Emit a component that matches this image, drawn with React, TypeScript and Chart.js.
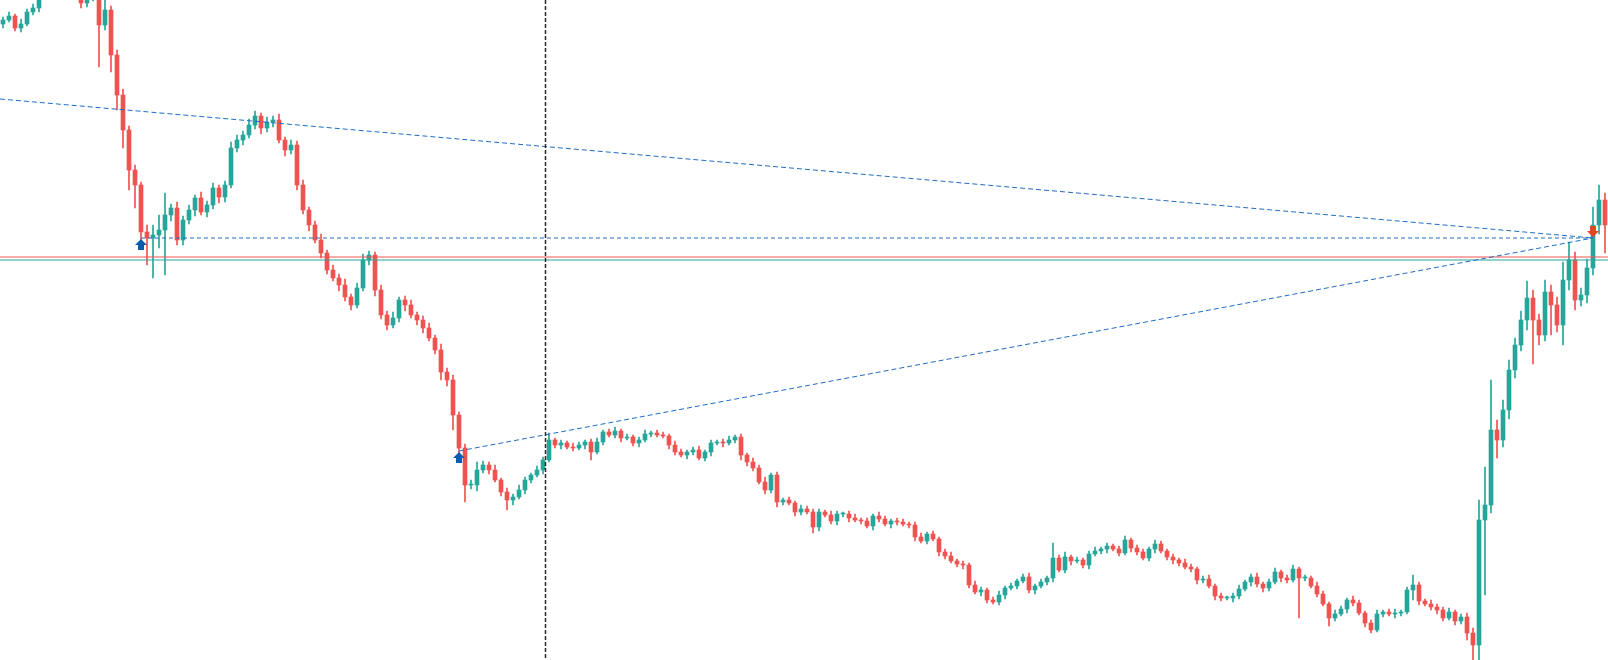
import React, { useEffect, useRef } from 'react';
import { Chart, registerables } from 'chart.js';

Chart.register(...registerables);

// Price units: arbitrary price scale (0 = bottom of view, 660 = top of view)
const firstOpen = 636;
const closes = [
  640, 644, 632, 636, 648, 652, 664, 676, 686, 692,
  688, 680, 670, 657, 662, 670, 635, 650, 605, 565,
  530, 490, 475, 428, 422, 425, 430, 445, 452, 420,
  440, 450, 462, 448, 455, 472, 463, 475, 512, 520,
  525, 535, 544, 532, 538, 540, 520, 510, 515, 475,
  450, 435, 420, 407, 390, 382, 375, 363, 355, 372,
  400, 405, 370, 345, 335, 342, 360, 355, 345, 340,
  332, 322, 310, 288, 280, 245, 212, 175, 175, 190,
  195, 190, 180, 168, 160, 163, 170, 180, 185, 190,
  200, 220, 215, 217, 213, 212, 215, 218, 208, 218,
  228, 225, 229, 222, 223, 217, 220, 226, 227, 225,
  224, 215, 208, 205, 208, 210, 202, 208, 217, 218,
  217, 220, 223, 205, 198, 192, 178, 170, 185, 158,
  160, 157, 148, 151, 148, 133, 148, 145, 139, 146,
  146, 142, 140, 139, 134, 144, 141, 136, 139, 138,
  136, 135, 123, 119, 126, 121, 108, 104, 99, 96,
  95, 75, 68, 70, 60, 58, 65, 72, 74, 79,
  83, 70, 74, 78, 82, 102, 90, 103, 99, 100,
  95, 106, 109, 111, 114, 111, 107, 120, 112, 108,
  102, 111, 116, 109, 103, 100, 97, 93, 91, 80,
  81, 74, 64, 62, 62, 64, 71, 78, 83, 76,
  72, 78, 88, 82, 80, 91, 82, 82, 74, 66,
  56, 42, 46, 51, 60, 57, 47, 37, 30, 46,
  48, 46, 47, 48, 70, 75, 59, 56, 53, 50,
  42, 48, 39, 43, 27, 15, 140, 155, 230, 220,
  250, 290, 315, 340, 362, 340, 325, 368, 355, 335,
  380, 400, 360, 365, 392, 435, 460, 435,
];

// Ordinary wick lengths above / below each candle body
const upperWick = [
  3, 4, 2, 5, 3, 4, 2, 3, 2, 3,
  3, 2, 4, 3, 2, 4, 5, 6, 4, 5,
  6, 4, 5, 3, 6, 4, 5, 3, 4, 6,
  4, 5, 3, 6, 4, 5, 3, 4, 6, 5,
  4, 6, 5, 3, 5, 4, 6, 3, 5, 4,
  5, 3, 4, 6, 3, 5, 4, 6, 3, 5,
  6, 4, 3, 5, 4, 6, 3, 4, 5, 3,
  4, 5, 3, 6, 4, 5, 3, 4, 5, 3,
  4, 3, 5, 2, 4, 3, 5, 3, 2, 4,
  3, 4, 2, 3, 2, 4, 3, 2, 3, 4,
  2, 3, 4, 2, 3, 2, 3, 4, 2, 3,
  3, 2, 4, 3, 2, 3, 4, 2, 3, 2,
  3, 4, 2, 3, 2, 4, 3, 5, 2, 3,
  2, 3, 2, 4, 3, 2, 3, 2, 4, 3,
  2, 3, 4, 2, 3, 2, 4, 3, 2, 3,
  3, 2, 3, 4, 2, 3, 2, 3, 4, 2,
  3, 2, 4, 3, 2, 3, 4, 2, 3, 2,
  3, 4, 2, 3, 2, 4, 3, 5, 2, 3,
  2, 3, 4, 2, 3, 2, 3, 4, 2, 3,
  3, 2, 4, 3, 2, 3, 2, 4, 3, 2,
  3, 4, 2, 3, 2, 3, 4, 2, 3, 4,
  2, 3, 4, 2, 3, 4, 2, 3, 2, 4,
  3, 2, 4, 3, 2, 4, 3, 2, 3, 4,
  2, 3, 4, 2, 3, 4, 3, 2, 4, 3,
  3, 4, 2, 3, 4, 5, 8, 10, 12, 8,
  10, 8, 6, 9, 7, 8, 6, 9, 7, 8,
  9, 6, 8, 7, 9, 6, 8, 7,
];
const lowerWick = [
  4, 2, 3, 4, 2, 3, 4, 3, 2, 4,
  2, 3, 3, 2, 4, 3, 6, 5, 6, 4,
  5, 6, 4, 6, 5, 6, 4, 5, 6, 4,
  5, 4, 6, 3, 5, 4, 6, 5, 3, 4,
  5, 3, 4, 6, 4, 5, 3, 6, 4, 5,
  4, 6, 3, 5, 4, 3, 6, 4, 5, 3,
  3, 5, 6, 4, 5, 3, 4, 6, 3, 5,
  5, 3, 4, 5, 6, 4, 3, 5, 4, 6,
  3, 4, 2, 4, 3, 5, 2, 4, 3, 2,
  4, 2, 3, 4, 2, 3, 2, 4, 3, 2,
  3, 2, 3, 4, 2, 3, 4, 2, 3, 2,
  2, 4, 3, 2, 4, 3, 2, 3, 4, 2,
  4, 2, 3, 2, 4, 3, 2, 4, 3, 5,
  3, 2, 4, 3, 2, 3, 4, 2, 3, 4,
  3, 4, 2, 3, 2, 4, 3, 2, 4, 3,
  2, 3, 4, 2, 3, 2, 4, 3, 2, 3,
  4, 3, 2, 4, 3, 2, 3, 4, 2, 3,
  2, 3, 4, 2, 3, 4, 2, 3, 4, 2,
  3, 4, 2, 3, 4, 2, 3, 2, 4, 3,
  2, 3, 4, 2, 3, 4, 3, 2, 3, 4,
  3, 2, 4, 3, 2, 4, 3, 2, 4, 3,
  4, 3, 2, 4, 3, 2, 4, 3, 2, 3,
  2, 4, 3, 2, 4, 3, 2, 4, 3, 2,
  3, 2, 4, 3, 2, 3, 4, 2, 3, 4,
  3, 2, 4, 3, 5, 4, 6, 9, 8, 10,
  7, 9, 8, 6, 10, 7, 9, 6, 8, 7,
  8, 7, 9, 6, 8, 7, 9, 6,
];

// Candles with long wicks: index, low, high
const spikeIndex = [13, 16, 17, 18, 19, 20, 21, 22, 23, 24, 25, 26, 27, 29, 73, 75, 76, 77, 79, 84, 91, 98, 123, 135, 175, 216, 221, 235, 244, 245, 246, 247, 248, 249, 250, 251, 252, 254, 255, 256, 257, 258, 260, 261, 262, 265, 266, 267];
const spikeLow = [652, 593, 630, 588, 550, 512, 470, 452, 412, 395, 382, 412, 385, 415, 280, 230, 205, 158, 178, 150, 200, 200, 200, 127, 85, 42, 34, 60, 20, 0, 0, 65, 170, 202, 215, 265, 300, 335, 296, 315, 325, 325, 315, 370, 350, 390, 435, 407];
const spikeHigh = [668, 672, 672, 632, 592, 552, 512, 495, 445, 435, 435, 445, 467, 452, 310, 280, 245, 212, 198, 168, 227, 218, 225, 151, 117, 92, 57, 85, 43, 30, 160, 193, 280, 240, 260, 300, 322, 379, 362, 345, 380, 370, 398, 418, 400, 453, 475, 460];

// Trades
const buyIndex = [23, 76];
const buyPrice = [422, 209];
const sellIndex = [265];
const sellPrice = [422];
const prevEntryIndex = -0.5;
const prevEntryPrice = 561;

// Price lines
const bidLine = 403;
const askLine = 400;
const cursorIndex = 90.3;

const UP = '#26A69A';
const DOWN = '#EF5350';
const TRADE = '#1F6CC4';

function drawArrow(ctx: CanvasRenderingContext2D, cx: number, tipY: number, dir: number, color: string) {
  ctx.fillStyle = color;
  ctx.beginPath();
  ctx.moveTo(cx, tipY);
  ctx.lineTo(cx + 6, tipY + 6 * dir);
  ctx.lineTo(cx + 3, tipY + 6 * dir);
  ctx.lineTo(cx + 3, tipY + 11 * dir);
  ctx.lineTo(cx - 3, tipY + 11 * dir);
  ctx.lineTo(cx - 3, tipY + 6 * dir);
  ctx.lineTo(cx - 6, tipY + 6 * dir);
  ctx.closePath();
  ctx.fill();
}

const markersPlugin = {
  id: 'markers',
  afterDatasetsDraw(chart: any) {
    const { ctx, chartArea } = chart;
    const x = chart.scales.x;
    const y = chart.scales.y;
    ctx.save();
    const vx = Math.round(x.getPixelForValue(cursorIndex)) + 0.5;
    ctx.strokeStyle = '#2b2b2b';
    ctx.lineWidth = 1.5;
    ctx.setLineDash([4, 2]);
    ctx.beginPath();
    ctx.moveTo(vx, chartArea.top);
    ctx.lineTo(vx, chartArea.bottom);
    ctx.stroke();
    ctx.setLineDash([]);
    buyIndex.forEach((bi, k) => {
      drawArrow(ctx, x.getPixelForValue(bi), y.getPixelForValue(buyPrice[k]) + 1, 1, '#0B5CAD');
    });
    sellIndex.forEach((si, k) => {
      drawArrow(ctx, x.getPixelForValue(si), y.getPixelForValue(sellPrice[k]) - 1, -1, '#E4471F');
    });
    ctx.restore();
  },
};

export default function App() {
  const ref = useRef<HTMLCanvasElement | null>(null);
  useEffect(() => {
    if (!ref.current) return;
    const opens = closes.map((c, i) => (i === 0 ? firstOpen : closes[i - 1]));
    const colors = closes.map((c, i) => (c >= opens[i] ? UP : DOWN));
    const bodies = closes.map((c, i) => ({ x: i, y: [opens[i], c] }));
    const wicks = closes.map((c, i) => {
      let lo = Math.min(opens[i], c) - lowerWick[i];
      let hi = Math.max(opens[i], c) + upperWick[i];
      const k = spikeIndex.indexOf(i);
      if (k >= 0) {
        lo = Math.min(lo, spikeLow[k]);
        hi = Math.max(hi, spikeHigh[k]);
      }
      return { x: i, y: [lo, hi] };
    });
    const last = closes.length - 0.5;
    const lineBase = {
      type: 'line' as const,
      pointRadius: 0,
      borderWidth: 1,
      fill: false,
      tension: 0,
    };
    const chart = new Chart(ref.current, {
      type: 'bar',
      data: {
        datasets: [
          {
            ...lineBase,
            data: [{ x: -0.5, y: bidLine }, { x: last, y: bidLine }],
            borderColor: DOWN,
            order: 2,
          } as any,
          {
            ...lineBase,
            data: [{ x: -0.5, y: askLine }, { x: last, y: askLine }],
            borderColor: UP,
            order: 2,
          } as any,
          {
            ...lineBase,
            data: [{ x: buyIndex[0], y: buyPrice[0] }, { x: sellIndex[0], y: sellPrice[0] }],
            borderColor: TRADE,
            borderDash: [4, 3],
            order: 1,
          } as any,
          {
            ...lineBase,
            data: [{ x: prevEntryIndex, y: prevEntryPrice }, { x: sellIndex[0], y: sellPrice[0] }],
            borderColor: TRADE,
            borderDash: [5, 3],
            order: 1,
          } as any,
          {
            ...lineBase,
            data: [{ x: buyIndex[1], y: buyPrice[1] }, { x: sellIndex[0], y: sellPrice[0] }],
            borderColor: TRADE,
            borderDash: [5, 3],
            order: 1,
          } as any,
          {
            type: 'bar',
            data: bodies as any,
            backgroundColor: colors,
            barThickness: 4,
            minBarLength: 1,
            grouped: false,
            borderWidth: 0,
            order: 3,
          } as any,
          {
            type: 'bar',
            data: wicks as any,
            backgroundColor: colors,
            barThickness: 1,
            grouped: false,
            borderWidth: 0,
            order: 4,
          } as any,
        ],
      },
      options: {
        animation: false,
        responsive: false,
        devicePixelRatio: 1,
        layout: { padding: 0 },
        plugins: { legend: { display: false }, tooltip: { enabled: false } },
        scales: {
          x: { type: 'linear', min: -0.5, max: last, offset: false, display: false },
          y: { type: 'linear', min: 0, max: 660, display: false },
        },
      },
      plugins: [markersPlugin],
    });
    return () => chart.destroy();
  }, []);
  return (
    <div style={{ position: 'fixed', left: 0, top: 0, width: 1608, height: 660, background: '#fff' }}>
      <canvas ref={ref} width={1608} height={660} />
    </div>
  );
}
